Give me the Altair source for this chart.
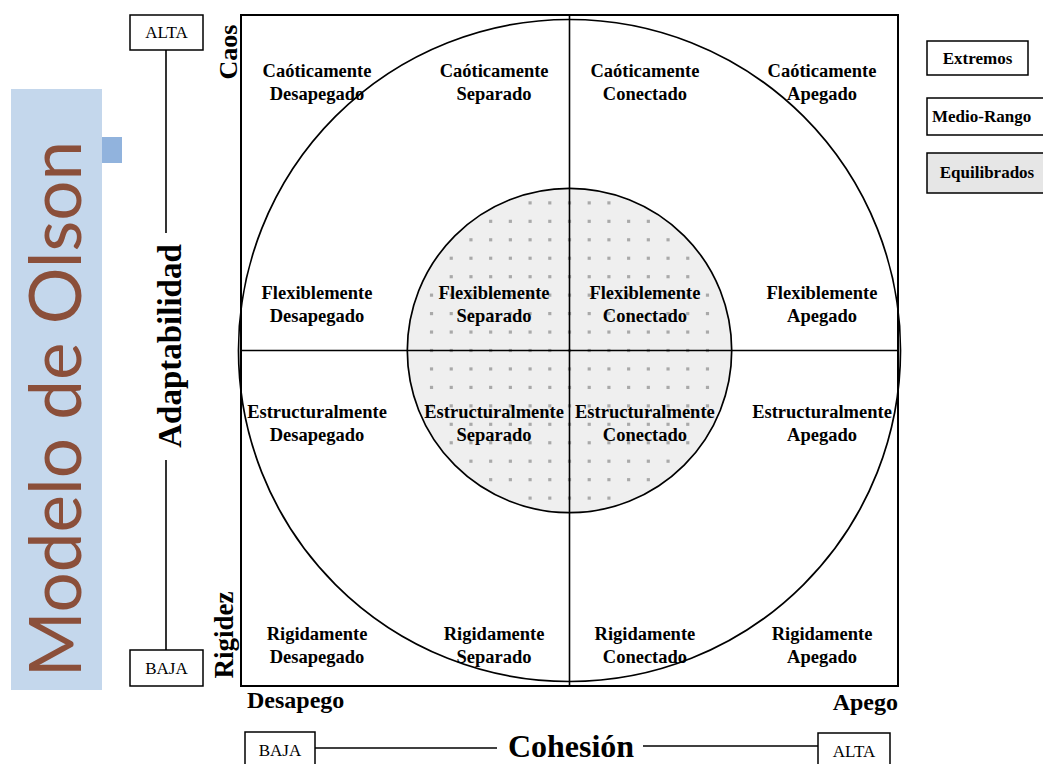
import altair as alt
import pandas as pd

# ---------------- data ----------------
cohesion_levels = ["Desapegado", "Separado", "Conectado", "Apegado"]
adaptability_levels = ["Caóticamente", "Flexiblemente", "Estructuralmente", "Rigidamente"]
circle_types = ["Extremos", "Equilibrados"]
circle_radii = [1.0, 0.49]
legend_types = ["Extremos", "Medio-Rango", "Equilibrados"]
cohesion_axis = ["BAJA", "Cohesión", "ALTA"]
cohesion_ends = ["Desapego", "Apego"]
adapt_axis = ["ALTA", "Adaptabilidad", "BAJA"]
adapt_ends = ["Caos", "Rigidez"]
slide_title = "Modelo de Olson"

W, H = 657, 671
SERIF = "Liberation Serif"

rows = []
for ai, a in enumerate(adaptability_levels):
    for ci, c in enumerate(cohesion_levels):
        rows.append({"adapt": a, "coh": c, "label": f"{a}\n{c}",
                     "cx": ci - 1.5, "ay": 1.5 - ai})
labels_df = pd.DataFrame(rows)
circ_df = pd.DataFrame({"tipo": circle_types, "r": circle_radii})

ONE = alt.InlineData(values=[{"k": 0}])

XS = alt.Scale(domain=[-1, 1], nice=False, zero=False)
YS = alt.Scale(domain=[-1, 1], nice=False, zero=False)
SIZE = alt.Scale(type="pow", exponent=2, domain=[0, 1], range=[0, 662 ** 2])
X0 = alt.XDatum(0, scale=XS, axis=None)
Y0 = alt.YDatum(0, scale=YS, axis=None)


def txt(text, x, y, size, angle=0, align="center", baseline="middle",
        weight="bold", font=SERIF, color="black"):
    return alt.Chart(ONE).mark_text(
        text=text, fontSize=size, font=font, fontWeight=weight, angle=angle,
        align=align, baseline=baseline, color=color
    ).encode(x=alt.value(x), y=alt.value(y))


def box(x1, x2, y1, y2, fill="white", stroke="black", sw=1.5):
    return alt.Chart(ONE).mark_rect(fill=fill, stroke=stroke, strokeWidth=sw).encode(
        x=alt.value(x1), x2=alt.value(x2), y=alt.value(y1), y2=alt.value(y2))


def seg(x1, x2, y1, y2, sw=1.6):
    return alt.Chart(ONE).mark_rule(color="black", strokeWidth=sw).encode(
        x=alt.value(x1), x2=alt.value(x2), y=alt.value(y1), y2=alt.value(y2))


# ---------------- slide decoration ----------------
panel = box(-230, -139, 74, 675, fill="#c4d7ec", stroke=None, sw=0)
square = box(-139, -119, 122, 148, fill="#91b3dd", stroke=None, sw=0)
title = txt(slide_title, -160, 394, 71, angle=270, baseline="alphabetic",
            weight="normal", font="Lato", color="#8b4f3a")

# ---------------- circles and quadrants ----------------
inner_fill = alt.Chart(circ_df).transform_filter("datum.r < 1").mark_point(
    shape="circle", filled=True, color="#efefef", opacity=1, strokeWidth=0
).encode(x=X0, y=Y0, size=alt.Size("r:Q", scale=SIZE, legend=None))

texture = alt.Chart(alt.sequence(0, 441, as_="i")).transform_calculate(
    gx="((datum.i % 21) - 10) * 0.06",
    gy="(floor(datum.i / 21) - 10) * 0.055",
).transform_filter(
    "pow(datum.gx / 0.475, 2) + pow(datum.gy / 0.465, 2) < 1"
).mark_square(size=10, color="#7a7a7a", opacity=0.6).encode(
    x=alt.X("gx:Q", scale=XS, axis=None), y=alt.Y("gy:Q", scale=YS, axis=None))

vline = alt.Chart(ONE).mark_rule(color="black", strokeWidth=1.6).encode(x=X0)
hline = alt.Chart(ONE).mark_rule(color="black", strokeWidth=1.6).encode(y=Y0)

outlines = alt.Chart(circ_df).mark_point(
    shape="circle", filled=False, color="black", strokeWidth=1.7, opacity=1
).encode(x=X0, y=Y0, size=alt.Size("r:Q", scale=SIZE, legend=None))

quad_labels = alt.Chart(labels_df).mark_text(
    font=SERIF, fontSize=18.5, fontWeight="bold", lineBreak="\n", lineHeight=23,
    baseline="middle", color="black"
).encode(
    x=alt.X("cx:Q", axis=None,
            scale=alt.Scale(type="pow", exponent=1.1, domain=[-1.5, 1.5],
                            range=[76, 581], nice=False, zero=False)),
    y=alt.Y("ay:Q", axis=None,
            scale=alt.Scale(type="pow", exponent=1.41, domain=[-1.5, 1.5],
                            range=[619, 56], nice=False, zero=False)),
    text="label:N",
)

# ---------------- adaptability axis (left) ----------------
left_axis = [
    seg(-75, -75, 35, 218),
    seg(-75, -75, 445, 635),
    box(-111, -38, 0, 35),
    txt(adapt_axis[0], -74.5, 18, 17, weight="normal"),
    txt(adapt_axis[1], -60, 331, 33, angle=270, baseline="alphabetic"),
    box(-111, -38, 635, 671),
    txt(adapt_axis[2], -74.5, 654, 17, weight="normal"),
    txt(adapt_ends[0], -4, 37, 26, angle=270, baseline="alphabetic"),
    txt(adapt_ends[1], -8, 620, 27, angle=270, baseline="alphabetic"),
]

# ---------------- cohesion axis (bottom) ----------------
bottom_axis = [
    txt(cohesion_ends[0], 6, 693, 24, align="left", baseline="alphabetic"),
    txt(cohesion_ends[1], W, 695, 24, align="right", baseline="alphabetic"),
    seg(74, 256, 733, 733),
    seg(402, 577, 731, 731),
    box(4, 74, 717, 760),
    txt(cohesion_axis[0], 39, 736, 17, weight="normal"),
    txt(cohesion_axis[1], 330, 742, 32, baseline="alphabetic"),
    box(577, 649, 718, 760),
    txt(cohesion_axis[2], 613, 737, 17, weight="normal"),
]

# ---------------- legend (right) ----------------
legend = [
    box(686, 787, 26, 60),
    txt(legend_types[0], 736.5, 44, 17),
    box(686, 830, 83, 120),
    txt(legend_types[1], 691, 102, 17, align="left"),
    box(686, 806, 138, 178, fill="#e6e6e6"),
    txt(legend_types[2], 746, 158, 17),
]

chart = alt.layer(
    panel, square, title,
    inner_fill, texture, vline, hline, outlines, quad_labels,
    *left_axis, *bottom_axis, *legend,
).resolve_scale(
    x="independent", y="independent", size="independent"
).properties(
    width=W, height=H,
    autosize=alt.AutoSizeParams(type="none"),
    padding={"left": 233, "top": 7, "right": 145, "bottom": 78},
    background="white",
).configure_view(stroke="black", strokeWidth=2)

chart.save("out.html", embed_options={"renderer": "svg", "actions": False})
